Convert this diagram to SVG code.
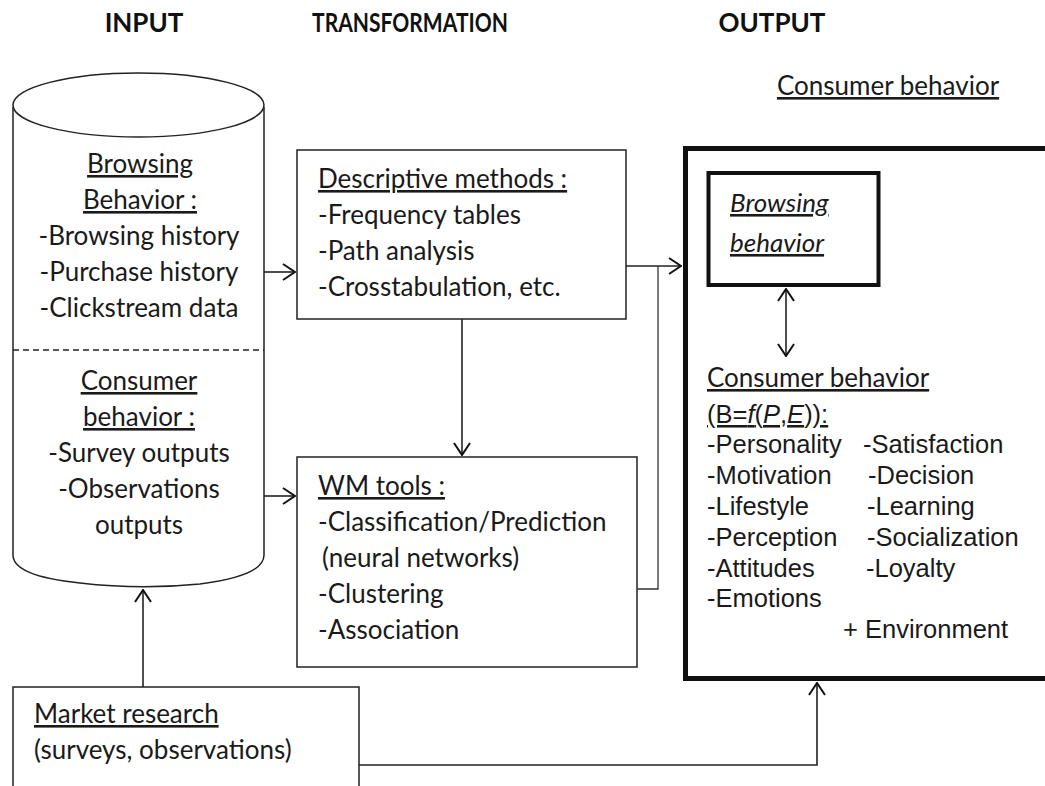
<svg xmlns="http://www.w3.org/2000/svg" width="1045" height="786" viewBox="0 0 1045 786">
  <defs>
    <style>
      .head { font-family: Lato, "Liberation Sans", sans-serif; font-weight: bold; font-size: 26px; fill: #111; }
      .t { font-family: Lato, "Liberation Sans", sans-serif; font-size: 26px; fill: #1a1a1a; }
      .a { font-family: "Liberation Sans", Arial, sans-serif; font-size: 25.5px; fill: #1a1a1a; }
      .u { text-decoration: underline; }
      .box { fill: #fff; stroke: #222; stroke-width: 1.5; }
      .link { fill: none; stroke: #222; stroke-width: 1.6; }
      .thin { fill: none; stroke: #333; stroke-width: 1.3; }
    </style>
    <marker id="open" viewBox="0 0 14 18" refX="13" refY="9" markerWidth="14" markerHeight="18" markerUnits="userSpaceOnUse" orient="auto-start-reverse">
      <path d="M1,1 L13,9 L1,17" fill="none" stroke="#111" stroke-width="2"/>
    </marker>
  </defs>
  <rect width="1045" height="786" fill="#fff"/>

  <!-- column headings -->
  <g id="headings">
    <text class="head" x="144" y="32" text-anchor="middle">INPUT</text>
    <text class="head" x="312" y="32" font-size="24.5" textLength="196" lengthAdjust="spacingAndGlyphs">TRANSFORMATION</text>
    <text class="head" x="772" y="32" text-anchor="middle">OUTPUT</text>
  </g>

  <!-- input data store -->
  <g id="input-store">
    <path class="box" d="M13,107 L13,555 Q13,576 80,583 Q140,590 200,584 Q264,576 264,555 L264,107"/>
    <ellipse class="box" cx="138.5" cy="105" rx="125.5" ry="32"/>
    <line x1="13" y1="350" x2="264" y2="350" stroke="#222" stroke-width="1.3" stroke-dasharray="6,4"/>
    <g class="t" text-anchor="middle">
      <text class="u" x="140" y="173">Browsing</text>
      <text class="u" x="140" y="209">Behavior :</text>
      <text x="139" y="245">-Browsing history</text>
      <text x="139" y="281">-Purchase history</text>
      <text x="139" y="317">-Clickstream data</text>
      <text class="u" x="139" y="390">Consumer</text>
      <text class="u" x="139" y="426">behavior :</text>
      <text x="139" y="462">-Survey outputs</text>
      <text x="139" y="498">-Observations</text>
      <text x="139" y="534">outputs</text>
    </g>
  </g>

  <!-- descriptive methods -->
  <g id="descriptive">
    <rect class="box" x="297" y="150" width="329" height="169"/>
    <g class="t">
      <text class="u" x="318" y="188">Descriptive methods :</text>
      <text x="318" y="224">-Frequency tables</text>
      <text x="318" y="260">-Path analysis</text>
      <text x="318" y="296">-Crosstabulation, etc.</text>
    </g>
  </g>

  <!-- web mining tools -->
  <g id="wm-tools">
    <rect class="box" x="297" y="457" width="340" height="210"/>
    <g class="t">
      <text class="u" x="318" y="495">WM tools :</text>
      <text x="318" y="531">-Classification/Prediction</text>
      <text x="322" y="567">(neural networks)</text>
      <text x="318" y="603">-Clustering</text>
      <text x="318" y="639">-Association</text>
    </g>
  </g>

  <!-- market research -->
  <g id="market-research">
    <rect class="box" x="13" y="687" width="346" height="110"/>
    <g class="t">
      <text class="u" x="34" y="723">Market research</text>
      <text x="34" y="759">(surveys, observations)</text>
    </g>
  </g>

  <!-- output heading -->
  <g id="output-title">
    <text class="t u" x="777" y="95">Consumer behavior</text>
  </g>

  <!-- output: consumer behavior -->
  <g id="consumer-behavior">
    <rect x="685.5" y="148.5" width="380" height="530" fill="#fff" stroke="#111" stroke-width="5"/>
    <text class="t u" x="707" y="387">Consumer behavior</text>
    <text class="a u" x="707" y="423">(B=<tspan font-style="italic">f</tspan>(<tspan font-style="italic">P</tspan>,<tspan font-style="italic">E</tspan>)):</text>
    <g class="a">
      <text x="707" y="453">-Personality</text>
      <text x="707" y="484">-Motivation</text>
      <text x="707" y="515">-Lifestyle</text>
      <text x="707" y="546">-Perception</text>
      <text x="707" y="577">-Attitudes</text>
      <text x="707" y="607">-Emotions</text>
      <text x="863" y="453">-Satisfaction</text>
      <text x="868" y="484">-Decision</text>
      <text x="867" y="515">-Learning</text>
      <text x="867" y="546">-Socialization</text>
      <text x="866" y="577">-Loyalty</text>
      <text x="843" y="638">+ Environment</text>
    </g>
  </g>

  <!-- browsing behavior -->
  <g id="browsing-behavior">
    <rect x="708.5" y="173" width="170" height="112" fill="#fff" stroke="#111" stroke-width="4"/>
    <text class="t u" font-style="italic" font-size="29" x="730" y="212">Browsing</text>
    <text class="t u" font-style="italic" font-size="29" x="730" y="252">behavior</text>
  </g>

  <!-- connectors -->
  <g id="connectors">
    <line class="link" x1="264" y1="272" x2="295" y2="272" marker-end="url(#open)"/>
    <line class="link" x1="264" y1="496" x2="295" y2="496" marker-end="url(#open)"/>
    <line class="link" x1="462" y1="319" x2="462" y2="455" marker-end="url(#open)"/>
    <line class="link" x1="626" y1="266" x2="681" y2="266" marker-end="url(#open)"/>
    <polyline class="thin" points="637,589 658,589 658,266"/>
    <line class="link" x1="786" y1="289" x2="786" y2="356" marker-start="url(#open)" marker-end="url(#open)"/>
    <line class="link" x1="143" y1="687" x2="143" y2="590" marker-end="url(#open)"/>
    <polyline class="link" points="359,765 817,765 817,683" marker-end="url(#open)"/>
  </g>
</svg>
